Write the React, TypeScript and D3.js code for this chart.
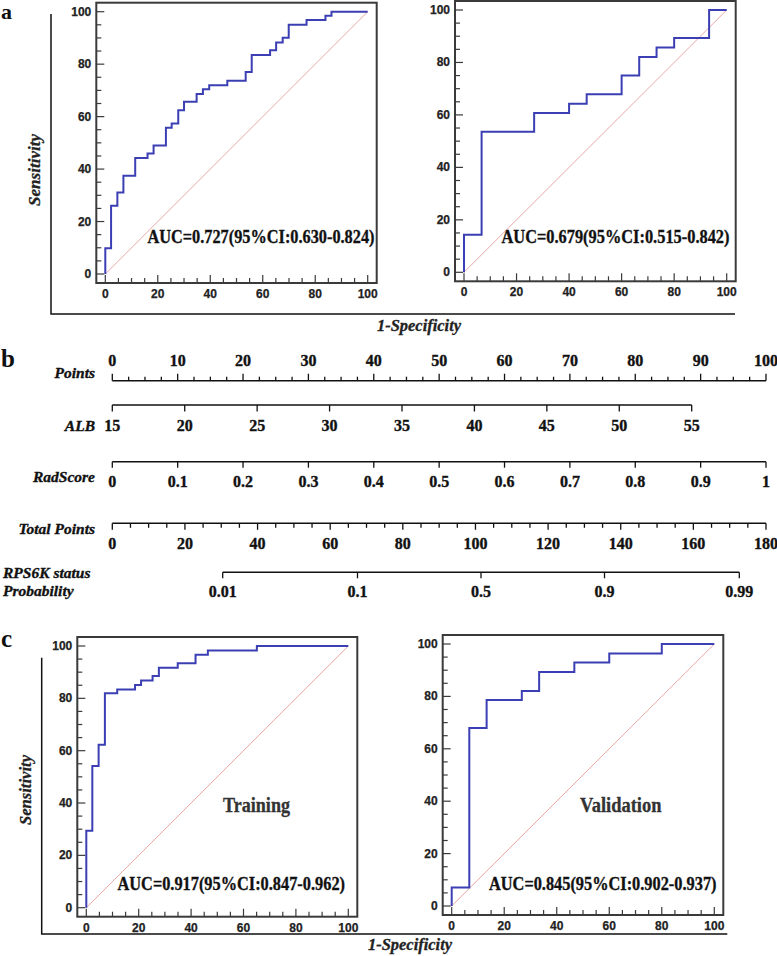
import React from 'react';
import * as d3 from 'd3';

// ---------- DATA ----------
const rocTicks = [0, 20, 40, 60, 80, 100];

// Panel a – RadScore, training
const aTrainFpr = [0, 2.2, 4.6, 6.9, 11.4, 16.1, 18.4, 23.1, 25.3, 27.8, 30.0, 34.8, 37.2, 39.6, 46.5, 53.5, 55.8, 62.8, 65.1, 67.6, 69.9, 76.7, 83.9, 86.2, 100];
const aTrainTpr = [0, 9.8, 26.0, 31.1, 37.5, 44.2, 45.9, 49.0, 55.8, 57.4, 62.4, 65.7, 68.6, 70.4, 72.0, 73.7, 77.0, 83.5, 85.3, 88.3, 90.1, 95.0, 96.8, 98.5, 100];
// Panel a – RadScore, validation
const aValFpr = [0, 6.7, 26.7, 40.0, 46.7, 60.0, 66.7, 73.3, 80.0, 93.3, 100];
const aValTpr = [0, 14.3, 53.6, 60.7, 64.3, 67.9, 75.0, 82.1, 85.7, 89.3, 100];
// Panel c – nomogram, training
const cTrainFpr = [0, 2.3, 4.7, 7.1, 11.8, 18.6, 20.9, 25.3, 27.7, 34.9, 41.7, 46.4, 65.1, 100];
const cTrainTpr = [0, 29.4, 54.1, 62.3, 81.9, 83.4, 85.1, 86.8, 88.5, 91.7, 93.4, 96.7, 98.3, 100];
// Panel c – nomogram, validation
const cValFpr = [0, 6.7, 13.3, 26.7, 33.3, 46.7, 60.0, 80.0, 100];
const cValTpr = [0, 7.1, 67.9, 78.6, 82.1, 89.3, 92.9, 96.4, 100];

const aucTexts = [
  'AUC=0.727(95%CI:0.630-0.824)',
  'AUC=0.679(95%CI:0.515-0.842)',
  'AUC=0.917(95%CI:0.847-0.962)',
  'AUC=0.845(95%CI:0.902-0.937)',
];

// Nomogram
const pointsTicks = [0, 10, 20, 30, 40, 50, 60, 70, 80, 90, 100];
const albTicks = [15, 20, 25, 30, 35, 40, 45, 50, 55];
const radTicks = [0, 0.1, 0.2, 0.3, 0.4, 0.5, 0.6, 0.7, 0.8, 0.9, 1];
const totalTicks = [0, 20, 40, 60, 80, 100, 120, 140, 160, 180];
const probTicks = [0.01, 0.1, 0.5, 0.9, 0.99];

// ---------- STYLE ----------
const SERIF = "'Liberation Serif','Times New Roman',serif";
const SANS = "'Liberation Sans',Arial,sans-serif";
const BLUE = '#3b3fb3';
const DIAG = '#e79c9c';
const FRAME = '#3a3a3a';
const INK = '#111';
const THICK = { stroke: INK, strokeWidth: 0.35 };

type RocProps = {
  x0: number; x1: number; y0: number; y1: number;
  fpr: number[]; tpr: number[];
  auc: string; aucX: number; aucY: number; aucW: number;
  label?: string; labelX?: number; labelY?: number; labelW?: number;
};

function Roc(p: RocProps) {
  const x = d3.scaleLinear().domain([0, 100]).range([p.x0, p.x1]);
  const y = d3.scaleLinear().domain([0, 100]).range([p.y0, p.y1]);
  const pad = 9;
  const fl = p.x0 - pad, fr = p.x1 + pad, ft = p.y1 - pad, fb = p.y0 + pad;
  const pts: [number, number][] = p.fpr.map((f, i) => [f, p.tpr[i]]);
  const line = d3.line<[number, number]>().x(d => x(d[0])).y(d => y(d[1])).curve(d3.curveStepBefore);
  const minor = d3.range(0, 101, 5);
  return (
    <g>
      <line x1={x(0)} y1={y(0)} x2={x(100)} y2={y(100)} stroke={DIAG} strokeWidth={0.9} />
      <path d={line(pts) || ''} fill="none" stroke={BLUE} strokeWidth={2} />
      <rect x={fl} y={ft} width={fr - fl} height={fb - ft} fill="none" stroke={FRAME} strokeWidth={2} />
      {minor.map(v => {
        const len = v % 20 === 0 ? 8 : 5;
        return (
          <g key={v} stroke={FRAME} strokeWidth={1.2}>
            <line x1={fl} x2={fl + len} y1={y(v)} y2={y(v)} />
            <line x1={x(v)} x2={x(v)} y1={fb} y2={fb - len} />
          </g>
        );
      })}
      {rocTicks.map(v => (
        <g key={'l' + v} fontFamily={SANS} fontWeight="bold" fontSize={12} fill="#222" stroke="#222" strokeWidth={0.25}>
          <text x={fl - 5} y={y(v) + 4} textAnchor="end">{v}</text>
          <text x={x(v)} y={fb + 15} textAnchor="middle">{v}</text>
        </g>
      ))}
      <text x={p.aucX} y={p.aucY} fontFamily={SERIF} fontWeight="bold" fontSize={19.5}
        textLength={p.aucW} lengthAdjust="spacingAndGlyphs" fill={INK} {...THICK}>{p.auc}</text>
      {p.label && (
        <text x={p.labelX} y={p.labelY} fontFamily={SERIF} fontWeight="bold" fontSize={20}
          textLength={p.labelW} lengthAdjust="spacingAndGlyphs" fill="#333" stroke="#333" strokeWidth={0.3}>{p.label}</text>
      )}
    </g>
  );
}

function Nomogram() {
  const pts = d3.scaleLinear().domain([0, 100]).range([112.3, 766]);
  const alb = d3.scaleLinear().domain([15, 55]).range([112.3, 691.7]);
  const rad = d3.scaleLinear().domain([0, 1]).range([112.3, 766]);
  const tot = d3.scaleLinear().domain([0, 180]).range([112.3, 766]);
  const logit = (p: number) => Math.log(p / (1 - p));
  const prob = d3.scaleLinear().domain([logit(0.01), logit(0.99)]).range([222.7, 739.3]);
  const fs = 15.5;
  const lblStyle = { fontFamily: SERIF, fontWeight: 'bold' as const, fontStyle: 'italic' as const, fontSize: fs, ...THICK };
  const tickStyle = { fontFamily: SERIF, fontWeight: 'bold' as const, fontSize: 16, ...THICK };
  const yPts = 380.7, yAlb = 405, yRad = 461.7, yTot = 523.3, yProb = 572.3;
  return (
    <g fill={INK}>
      {/* Points */}
      <text x={95} y={378.3} textAnchor="end" {...lblStyle}>Points</text>
      <line x1={pts(0)} x2={pts(100)} y1={yPts} y2={yPts} stroke={INK} strokeWidth={1.5} />
      {d3.range(0, 100.01, 2.5).map(v => (
        <line key={v} x1={pts(v)} x2={pts(v)} y1={yPts} y2={yPts - (v % 10 === 0 ? 7 : 4)} stroke={INK} strokeWidth={1.3} />
      ))}
      {pointsTicks.map(v => <text key={v} x={pts(v)} y={366} textAnchor="middle" {...tickStyle}>{v}</text>)}

      {/* ALB */}
      <text x={95} y={431} textAnchor="end" {...lblStyle}>ALB</text>
      <line x1={alb(15)} x2={alb(55)} y1={yAlb} y2={yAlb} stroke={INK} strokeWidth={1.5} />
      {albTicks.map(v => (
        <g key={v}>
          <line x1={alb(v)} x2={alb(v)} y1={yAlb} y2={yAlb + 6.5} stroke={INK} strokeWidth={1.3} />
          <text x={alb(v)} y={431} textAnchor="middle" {...tickStyle}>{v}</text>
        </g>
      ))}

      {/* RadScore */}
      <text x={95} y={481.7} textAnchor="end" {...lblStyle}>RadScore</text>
      <line x1={rad(0)} x2={rad(1)} y1={yRad} y2={yRad} stroke={INK} strokeWidth={1.5} />
      {radTicks.map(v => (
        <g key={v}>
          <line x1={rad(v)} x2={rad(v)} y1={yRad} y2={yRad + 6} stroke={INK} strokeWidth={1.3} />
          <text x={rad(v)} y={487} textAnchor="middle" {...tickStyle}>{String(v)}</text>
        </g>
      ))}

      {/* Total points */}
      <text x={95} y={534} textAnchor="end" {...lblStyle}>Total Points</text>
      <line x1={tot(0)} x2={tot(180)} y1={yTot} y2={yTot} stroke={INK} strokeWidth={1.5} />
      {d3.range(0, 181, 5).map(v => (
        <line key={v} x1={tot(v)} x2={tot(v)} y1={yTot} y2={yTot + (v % 20 === 0 ? 6.5 : 4.5)} stroke={INK} strokeWidth={1.3} />
      ))}
      {totalTicks.map(v => <text key={v} x={tot(v)} y={549} textAnchor="middle" {...tickStyle}>{v}</text>)}

      {/* Probability */}
      <text x={3} y={578.3} {...lblStyle}>RPS6K status</text>
      <text x={3} y={595.5} {...lblStyle}>Probability</text>
      <line x1={prob(logit(0.01))} x2={prob(logit(0.99))} y1={yProb} y2={yProb} stroke={INK} strokeWidth={1.5} />
      {probTicks.map(v => (
        <g key={v}>
          <line x1={prob(logit(v))} x2={prob(logit(v))} y1={yProb} y2={yProb + 6} stroke={INK} strokeWidth={1.3} />
          <text x={prob(logit(v))} y={597} textAnchor="middle" {...tickStyle}>{String(v)}</text>
        </g>
      ))}
    </g>
  );
}

export default function App() {
  const axisLbl = { fontFamily: SERIF, fontWeight: 'bold' as const, fontStyle: 'italic' as const, fill: '#222', stroke: '#222', strokeWidth: 0.3 };
  return (
    <svg width={777} height={956} style={{ position: 'absolute', left: 0, top: 0, background: '#fff' }}>
      <rect x={0} y={0} width={777} height={956} fill="#fff" />

      {/* Panel letters */}
      <text x={1} y={19} fontFamily={SERIF} fontWeight="bold" fontSize={22} fill={INK}>a</text>
      <text x={1} y={367} fontFamily={SERIF} fontWeight="bold" fontSize={25} fill={INK}>b</text>
      <text x={1} y={647} fontFamily={SERIF} fontWeight="bold" fontSize={25} fill={INK}>c</text>

      {/* Panel a frame */}
      <path d="M51,14V314H735" fill="none" stroke={INK} strokeWidth={1.5} />
      <text transform="translate(40,170) rotate(-90)" textAnchor="middle" fontSize={16.5} textLength={72} lengthAdjust="spacingAndGlyphs" {...axisLbl}>Sensitivity</text>
      <text x={377} y={331} fontSize={16} textLength={84} lengthAdjust="spacingAndGlyphs" {...axisLbl}>1-Specificity</text>

      <Roc x0={105.3} x1={367.7} y0={274} y1={11.7} fpr={aTrainFpr} tpr={aTrainTpr}
        auc={aucTexts[0]} aucX={147.5} aucY={242.5} aucW={227} />
      <Roc x0={464} x1={726.7} y0={272.3} y1={10} fpr={aValFpr} tpr={aValTpr}
        auc={aucTexts[1]} aucX={501.5} aucY={243} aucW={228} />

      <Nomogram />

      {/* Panel c frame */}
      <path d="M41.7,657.7V934H727.3" fill="none" stroke={INK} strokeWidth={1.5} />
      <text transform="translate(30.5,790) rotate(-90)" textAnchor="middle" fontSize={16.5} textLength={70} lengthAdjust="spacingAndGlyphs" {...axisLbl}>Sensitivity</text>
      <text x={368} y={950} fontSize={16} textLength={84} lengthAdjust="spacingAndGlyphs" {...axisLbl}>1-Specificity</text>

      <Roc x0={86.3} x1={348.3} y0={907.7} y1={646} fpr={cTrainFpr} tpr={cTrainTpr}
        auc={aucTexts[2]} aucX={117.5} aucY={890} aucW={227.5}
        label="Training" labelX={223} labelY={812} labelW={67} />
      <Roc x0={451.7} x1={714.3} y0={906} y1={644} fpr={cValFpr} tpr={cValTpr}
        auc={aucTexts[3]} aucX={489} aucY={890} aucW={227.5}
        label="Validation" labelX={580} labelY={812} labelW={81.5} />
    </svg>
  );
}
